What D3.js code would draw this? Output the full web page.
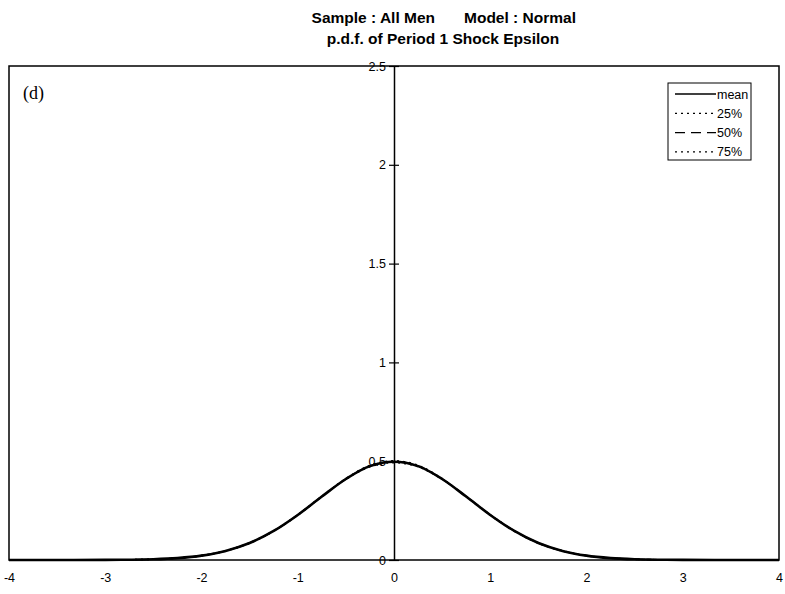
<!DOCTYPE html>
<html>
<head>
<meta charset="utf-8">
<script src="https://cdn.jsdelivr.net/npm/d3@7"></script>
<style>
  body { margin: 0; background: #fff; }
  svg { display: block; }
</style>
</head>
<body>
<svg id="chart" width="785" height="594"></svg>
<script>
// values: density at each epsilon point
const xs = [-4, -3.5, -3, -2.75, -2.5, -2.25, -2, -1.75, -1.5, -1.25, -1, -0.75, -0.5, -0.25,
    0, 0.25, 0.5, 0.75, 1, 1.25, 1.5, 1.75, 2, 2.25, 2.5, 2.75, 3, 3.5, 4];
const meanVals = [0, 0, 0.0004, 0.0014, 0.0038, 0.0096, 0.022, 0.046, 0.086, 0.147, 0.228, 0.321, 0.41, 0.475,
    0.497, 0.475, 0.41, 0.321, 0.228, 0.147, 0.086, 0.046, 0.022, 0.0096, 0.0038, 0.0014, 0.0004, 0, 0];
const p25Vals = [0, 0, 0.0004, 0.0014, 0.004, 0.0099, 0.0225, 0.047, 0.087, 0.148, 0.229, 0.322, 0.409, 0.472,
    0.493, 0.472, 0.409, 0.322, 0.229, 0.148, 0.087, 0.047, 0.0225, 0.0099, 0.004, 0.0014, 0.0004, 0, 0];
const p50Vals = [0, 0, 0.0004, 0.0014, 0.0038, 0.0096, 0.022, 0.046, 0.086, 0.147, 0.228, 0.321, 0.41, 0.476,
    0.498, 0.476, 0.41, 0.321, 0.228, 0.147, 0.086, 0.046, 0.022, 0.0096, 0.0038, 0.0014, 0.0004, 0, 0];
const p75Vals = [0, 0, 0.0003, 0.0013, 0.0036, 0.0093, 0.0215, 0.045, 0.085, 0.146, 0.227, 0.321, 0.412, 0.479,
    0.502, 0.479, 0.412, 0.321, 0.227, 0.146, 0.085, 0.045, 0.0215, 0.0093, 0.0036, 0.0013, 0.0003, 0, 0];

const seriesNames = ["mean", "25%", "50%", "75%"];
const seriesVals = [meanVals, p25Vals, p50Vals, p75Vals];
const xTicks = [-4, -3, -2, -1, 0, 1, 2, 3, 4];
const yTicks = [0, 0.5, 1, 1.5, 2, 2.5];

const dashes = { "mean": null, "25%": "2,4", "50%": "10,6", "75%": "2,4" };

const svg = d3.select("#chart");

const plotLeft = 9, plotRight = 779, plotTop = 66, plotBottom = 560;

const x = d3.scaleLinear().domain([-4, 4]).range([plotLeft, plotRight]);
const y = d3.scaleLinear().domain([0, 2.5]).range([plotBottom, plotTop]);

// title
const title = svg.append("g")
    .attr("font-family", "Liberation Sans, Arial, sans-serif")
    .attr("font-weight", "bold")
    .attr("font-size", 15.5)
    .attr("fill", "#000");
title.append("text").attr("x", 435).attr("y", 23).attr("text-anchor", "end").text("Sample : All Men");
title.append("text").attr("x", 464).attr("y", 23).text("Model : Normal");
title.append("text").attr("x", 443).attr("y", 44).attr("text-anchor", "middle")
    .text("p.d.f. of Period 1 Shock Epsilon");

// frame
svg.append("rect")
    .attr("x", plotLeft).attr("y", plotTop)
    .attr("width", plotRight - plotLeft).attr("height", plotBottom - plotTop)
    .attr("fill", "none")
    .attr("stroke", "#000")
    .attr("stroke-width", 1.5);

// y axis sits at x = 0
const yAxis = d3.axisLeft(y)
    .tickValues(yTicks)
    .tickFormat(d => String(d))
    .tickSizeInner(5)
    .tickSizeOuter(0)
    .tickPadding(3);

const yg = svg.append("g")
    .attr("transform", `translate(${x(0)},0)`)
    .call(yAxis);
yg.select(".domain").attr("stroke-width", 1.5);
yg.selectAll(".tick line").attr("x1", 5).attr("x2", -5).attr("stroke-width", 1.2);
yg.selectAll(".tick text")
    .attr("font-family", "Liberation Sans Narrow, Liberation Sans, Arial, sans-serif")
    .attr("font-size", 12.5)
    .attr("fill", "#000")
    .attr("x", -8);

// x labels, no tick marks
const xAxis = d3.axisBottom(x)
    .tickValues(xTicks)
    .tickFormat(d => String(d))
    .tickSize(0)
    .tickPadding(13);
const xg = svg.append("g")
    .attr("transform", `translate(0,${plotBottom})`)
    .call(xAxis);
xg.select(".domain").remove();
xg.selectAll(".tick text")
    .attr("font-family", "Liberation Sans Narrow, Liberation Sans, Arial, sans-serif")
    .attr("font-size", 12.5)
    .attr("fill", "#000");

// curves
const line = d3.line()
    .x((d, i) => x(xs[i]))
    .y(d => y(d))
    .curve(d3.curveCatmullRom);

seriesNames.forEach((name, k) => {
    svg.append("path")
        .datum(seriesVals[k])
        .attr("d", line)
        .attr("fill", "none")
        .attr("stroke", "#000")
        .attr("stroke-width", name === "mean" ? 2.6 : 1.6)
        .attr("stroke-dasharray", dashes[name]);
});

// panel label
svg.append("text")
    .attr("x", 23).attr("y", 99)
    .attr("font-family", "Liberation Serif, Times New Roman, serif")
    .attr("font-size", 18)
    .text("(d)");

// legend
const legend = svg.append("g");
legend.append("rect")
    .attr("x", 668).attr("y", 83)
    .attr("width", 83).attr("height", 77)
    .attr("fill", "#fff")
    .attr("stroke", "#000")
    .attr("stroke-width", 1);

seriesNames.forEach((name, k) => {
    const ly = 94 + k * 19.3;
    legend.append("line")
        .attr("x1", 675).attr("x2", 716)
        .attr("y1", ly).attr("y2", ly)
        .attr("stroke", "#000")
        .attr("stroke-width", name === "mean" ? 1.5 : 1.2)
        .attr("stroke-dasharray", dashes[name]);
    legend.append("text")
        .attr("x", 717)
        .attr("y", ly + 4.5)
        .attr("font-family", "Liberation Sans, Arial, sans-serif")
        .attr("font-size", 12.5)
        .text(name);
});
</script>
</body>
</html>
